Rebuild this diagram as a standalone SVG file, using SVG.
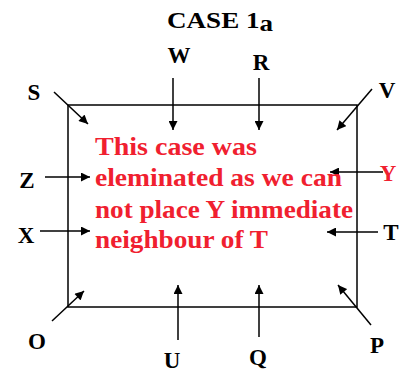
<svg xmlns="http://www.w3.org/2000/svg" width="404" height="374" viewBox="0 0 404 374">
<defs>
<marker id="ah" viewBox="0 0 10 10" refX="10" refY="5" markerWidth="10" markerHeight="9" markerUnits="userSpaceOnUse" orient="auto">
<path d="M0,0 L10,5 L0,10 Z" fill="#000"/>
</marker>
</defs>
<style>
.lbl{font-family:"Liberation Serif","Times New Roman",serif;font-weight:bold;font-size:23px;fill:#000;text-anchor:middle}
.red{fill:#f0202f}
.msg{font-family:"Liberation Serif","Times New Roman",serif;font-weight:bold;font-size:25px;fill:#f0202f}
.ar{stroke:#000;stroke-width:1.5;fill:none;marker-end:url(#ah)}
</style>
<rect width="404" height="374" fill="#fff"/>
<g id="frame"><rect x="68" y="105" width="289" height="202" fill="none" stroke="#000" stroke-width="1.5"/></g>
<g id="title"><text class="lbl" style="text-anchor:start" x="167" y="28" textLength="106" lengthAdjust="spacingAndGlyphs">CASE 1<tspan dy="3">a</tspan></text></g>
<g id="connectors">
<line class="ar" x1="54" y1="92" x2="88" y2="124"/>
<line class="ar" x1="173" y1="78" x2="173" y2="130"/>
<line class="ar" x1="259" y1="78" x2="259" y2="130"/>
<line class="ar" x1="372" y1="89" x2="337" y2="130"/>
<line class="ar" x1="45" y1="177" x2="90" y2="177"/>
<line class="ar" x1="383" y1="172" x2="330" y2="172"/>
<line class="ar" x1="40" y1="231" x2="90" y2="231"/>
<line class="ar" x1="378" y1="232" x2="327" y2="232"/>
<line class="ar" x1="52" y1="321" x2="84" y2="291"/>
<line class="ar" x1="178" y1="340" x2="178" y2="285"/>
<line class="ar" x1="259" y1="337" x2="259" y2="285"/>
<line class="ar" x1="371" y1="325" x2="338" y2="285"/>
</g>
<g id="S"><text class="lbl" x="34" y="100">S</text></g>
<g id="W"><text class="lbl" x="179" y="63">W</text></g>
<g id="R"><text class="lbl" x="261" y="70">R</text></g>
<g id="V"><text class="lbl" x="387" y="98">V</text></g>
<g id="Z"><text class="lbl" x="27" y="188">Z</text></g>
<g id="Y"><text class="lbl red" x="388" y="181">Y</text></g>
<g id="X"><text class="lbl" x="26" y="243">X</text></g>
<g id="T"><text class="lbl" x="391" y="240">T</text></g>
<g id="O"><text class="lbl" x="37" y="349">O</text></g>
<g id="U"><text class="lbl" x="172" y="368">U</text></g>
<g id="Q"><text class="lbl" x="258" y="365">Q</text></g>
<g id="P"><text class="lbl" x="377" y="353">P</text></g>
<g id="message">
<text class="msg" x="95" y="155" textLength="162" lengthAdjust="spacingAndGlyphs">This case was</text>
<text class="msg" x="95" y="186" textLength="247" lengthAdjust="spacingAndGlyphs">eleminated as we can</text>
<text class="msg" x="95" y="218" textLength="258" lengthAdjust="spacingAndGlyphs">not place Y immediate</text>
<text class="msg" x="95" y="248" textLength="173" lengthAdjust="spacingAndGlyphs">neighbour of T</text>
</g>
</svg>
